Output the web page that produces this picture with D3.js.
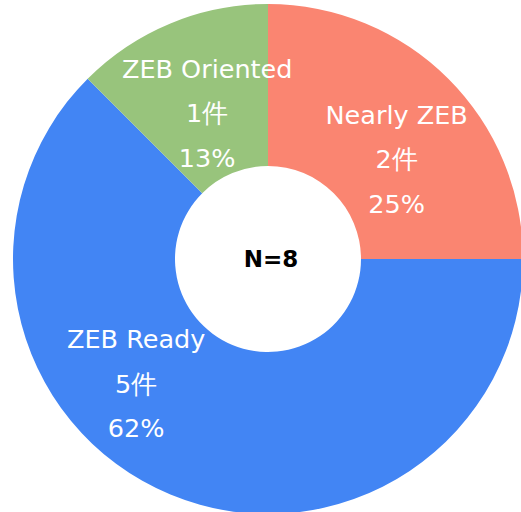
<!DOCTYPE html>
<html>
<head>
<meta charset="utf-8">
<script src="https://cdn.jsdelivr.net/npm/d3@7"></script>
<style>
  html,body{margin:0;padding:0;background:#fff;}
  svg{display:block;}
</style>
</head>
<body>
<div id="chart"></div>
<script>
// data (clockwise from 12 o'clock)
var categories=["Nearly ZEB","ZEB Ready","ZEB Oriented"];
var counts=[2,5,1];
var pctLabels=["25%","62%","13%"];
var colors=["#FA8571","#4285F4","#98C47C"];
var total=d3.sum(counts);

var width=521, height=512;
var cx=268, cy=259;
var outerR=255, innerR=93;

// text nudges from the centroid, Excel-like placement
var nudge=[[7,22],[-66,-34],[5,13]];

var svg=d3.select('#chart').append('svg')
    .attr('width',width)
    .attr('height',height);

var g=svg.append('g').attr('transform','translate('+cx+','+cy+')');

var pie=d3.pie().sort(null).value(function(d){return d;});
var arcs=pie(counts);

var arc=d3.arc().innerRadius(innerR).outerRadius(outerR);
var labelArc=d3.arc().innerRadius(172).outerRadius(172);

g.selectAll('path.slice').data(arcs)
    .enter().append('path')
        .attr('class','slice')
        .attr('d',arc)
        .attr('fill',function(d,i){return colors[i];});

var lineGap=44.5;
var lbl=g.selectAll('g.lbl').data(arcs)
    .enter().append('g')
        .attr('class','lbl')
        .attr('transform',function(d,i){
            var c=labelArc.centroid(d);
            return 'translate('+(c[0]+nudge[i][0])+','+(c[1]+nudge[i][1])+')';
        });

lbl.each(function(d,i){
    var lines=[categories[i],counts[i]+"件",pctLabels[i]];
    d3.select(this).selectAll('text').data(lines)
        .enter().append('text')
            .attr('x',0)
            .attr('y',function(t,j){return (j-1)*lineGap+9;})
            .attr('text-anchor','middle')
            .style('font-family','"DejaVu Sans", Verdana, sans-serif')
            .style('font-size','25.5px')
            .style('fill','#fff')
            .text(function(t){return t;});
});

g.append('text')
    .attr('x',3)
    .attr('y',8)
    .attr('text-anchor','middle')
    .style('font-family','"DejaVu Sans", Verdana, sans-serif')
    .style('font-weight','bold')
    .style('font-size','23px')
    .style('fill','#000')
    .text('N='+total);
</script>
</body>
</html>
